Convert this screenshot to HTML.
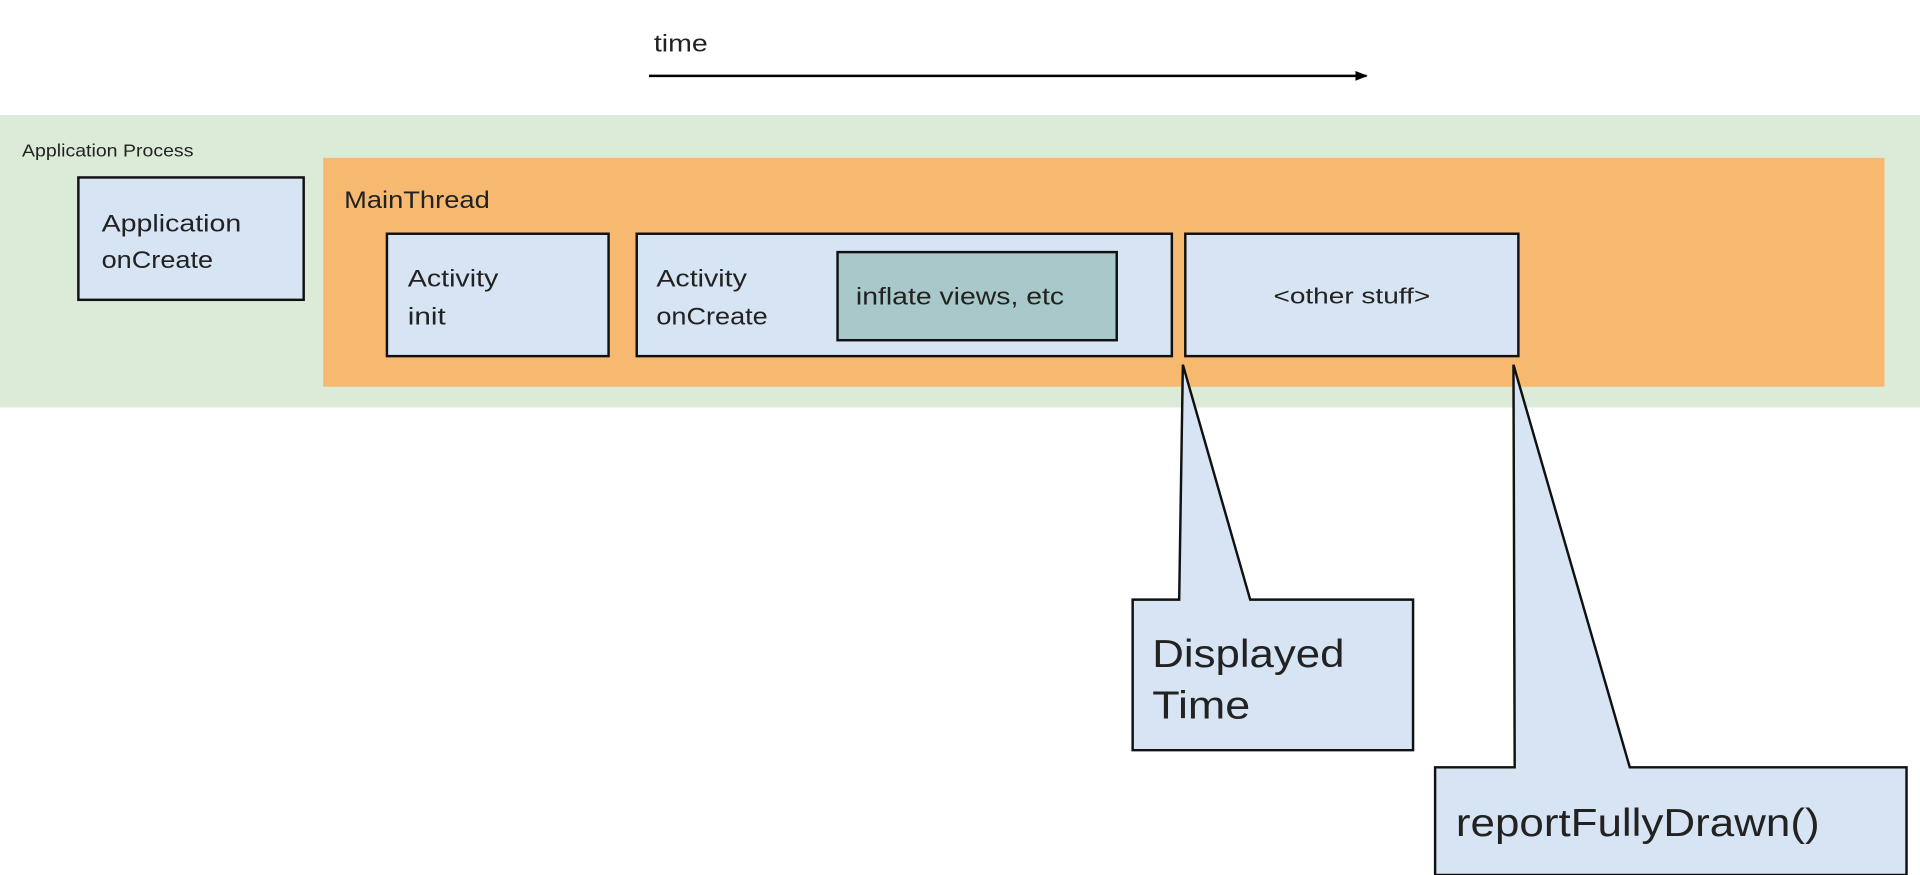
<!DOCTYPE html>
<html><head><meta charset="utf-8"><style>
html,body{margin:0;padding:0;background:#fff;width:1920px;height:875px;overflow:hidden}
svg{display:block}
text{font-family:"Liberation Sans",sans-serif;fill:#222}
</style></head><body>
<svg width="1920" height="875" viewBox="0 0 1568 715" preserveAspectRatio="none">
<defs><marker id="a" markerWidth="10" markerHeight="8" refX="9" refY="4" orient="auto" markerUnits="userSpaceOnUse"><path d="M0,0 L10,4 L0,8 z" fill="#000"/></marker></defs>
<g lengthAdjust="spacingAndGlyphs">
<text x="534" y="42" font-size="20" textLength="44" lengthAdjust="spacingAndGlyphs">time</text>
</g>
<line x1="530" y1="62" x2="1116" y2="62" stroke="#000" stroke-width="2" marker-end="url(#a)"/>
<rect x="0" y="94" width="1568" height="239" fill="#dcebd8"/>
<text x="18" y="128" font-size="14" textLength="140" lengthAdjust="spacingAndGlyphs">Application Process</text>
<rect x="264" y="129" width="1275" height="187" fill="#f6b96f"/>
<text x="281" y="170" font-size="20" textLength="119" lengthAdjust="spacingAndGlyphs">MainThread</text>
<g stroke="#111" stroke-width="2" fill="#d6e4f4">
<rect x="64" y="145" width="184" height="100"/>
<rect x="316" y="191" width="181" height="100"/>
<rect x="520" y="191" width="437" height="100"/>
<rect x="684" y="206" width="228" height="72" fill="#a9c8c9"/>
<rect x="968" y="191" width="272" height="100"/>
<path d="M966,298 L1021,490 L1154,490 L1154,613 L925,613 L925,490 L963,490 Z"/>
<path d="M1236,298 L1331,627 L1557,627 L1557,715 L1172,715 L1172,627 L1237,627 Z"/>
</g>
<g font-size="20">
<text x="83" y="189" textLength="114" lengthAdjust="spacingAndGlyphs">Application</text><text x="83" y="219" textLength="91" lengthAdjust="spacingAndGlyphs">onCreate</text>
<text x="333" y="234" textLength="74" lengthAdjust="spacingAndGlyphs">Activity</text><text x="333" y="265" textLength="31" lengthAdjust="spacingAndGlyphs">init</text>
<text x="536" y="234" textLength="74" lengthAdjust="spacingAndGlyphs">Activity</text><text x="536" y="265" textLength="91" lengthAdjust="spacingAndGlyphs">onCreate</text>
<text x="699" y="249" textLength="170" lengthAdjust="spacingAndGlyphs">inflate views, etc</text>
<text x="1040" y="248" font-size="18" textLength="128" lengthAdjust="spacingAndGlyphs">&lt;other stuff&gt;</text>
</g>
<text x="941" y="545" font-size="32" textLength="157" lengthAdjust="spacingAndGlyphs">Displayed</text>
<text x="941" y="587" font-size="32" textLength="80" lengthAdjust="spacingAndGlyphs">Time</text>
<text x="1189" y="683" font-size="32" textLength="297" lengthAdjust="spacingAndGlyphs">reportFullyDrawn()</text>
</svg>
</body></html>
